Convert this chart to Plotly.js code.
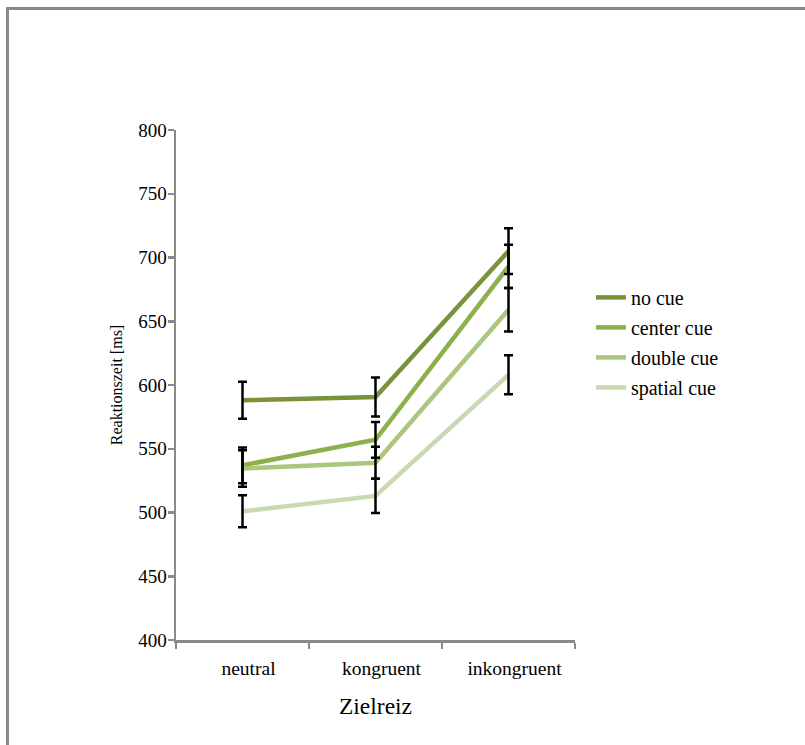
<!DOCTYPE html>
<html>
<head>
<meta charset="utf-8">
<script src="https://cdn.plot.ly/plotly-3.0.1.min.js"></script>
<style>
  html, body { margin: 0; padding: 0; background: #fff; overflow: hidden; }
  #wrap { position: relative; width: 805px; height: 745px; }
  #chart { position: absolute; left: 0; top: 0; width: 805px; height: 745px; }
  #frame { position: absolute; left: 6px; top: 7px; width: 1200px; height: 1200px;
           border-top: 3px solid #8a8a8a; border-left: 3px solid #8a8a8a; pointer-events: none; }
</style>
</head>
<body>
<div id="wrap">
  <div id="chart"></div>
  <div id="frame"></div>
</div>
<script>
// Data
var categories = ['neutral', 'kongruent', 'inkongruent'];
var seriesNames = ['no cue', 'center cue', 'double cue', 'spatial cue'];
var noCue = [588, 590.5, 705];
var centerCue = [537, 557, 693];
var doubleCue = [534.5, 539, 659];
var spatialCue = [501, 513, 608];
var noCueErr = [14.5, 15.3, 18];
var centerCueErr = [14, 14, 17];
var doubleCueErr = [14.4, 12.6, 17];
var spatialCueErr = [12.5, 13.4, 15.3];
var yTickVals = [400, 450, 500, 550, 600, 650, 700, 750, 800];

var seriesValues = [noCue, centerCue, doubleCue, spatialCue];
var seriesErrs = [noCueErr, centerCueErr, doubleCueErr, spatialCueErr];
var colors = ['#77933c', '#8cb04a', '#abc67f', '#c9d9b2'];

var traces = [];
// lines first
for (var i = 0; i < seriesValues.length; i++) {
  traces.push({
    type: 'scatter', mode: 'lines', name: seriesNames[i],
    x: categories, y: seriesValues[i],
    line: { color: colors[i], width: 4.5 },
    hoverinfo: 'skip', legendgroup: 'g' + i
  });
}
// error bars on top
for (var j = 0; j < seriesValues.length; j++) {
  traces.push({
    type: 'scatter', mode: 'markers', showlegend: false,
    x: categories, y: seriesValues[j],
    marker: { size: 1, opacity: 0 },
    error_y: { type: 'data', array: seriesErrs[j], visible: true,
               color: '#000', thickness: 2.5, width: 4.5 },
    hoverinfo: 'skip'
  });
}

var serif = "'Liberation Serif', 'Times New Roman', serif";
var layout = {
  width: 805, height: 745,
  margin: { l: 176, r: 230, t: 130, b: 105 },
  paper_bgcolor: 'rgba(0,0,0,0)',
  plot_bgcolor: 'rgba(0,0,0,0)',
  showlegend: true,
  legend: {
    x: 1.04, xanchor: 'left', y: 0.71, yanchor: 'top',
    font: { family: serif, size: 20, color: '#000' },
    traceorder: 'grouped', tracegroupgap: 1, bgcolor: 'rgba(0,0,0,0)'
  },
  xaxis: {
    type: 'category', range: [-0.5, 2.5],
    tickson: 'boundaries',
    showline: true, linecolor: '#8a8a8a', linewidth: 2.5,
    ticks: 'outside', ticklen: 6, tickwidth: 2.5, tickcolor: '#8a8a8a',
    showgrid: false, zeroline: false,
    tickfont: { family: serif, size: 19.5, color: '#000' },
    ticklabelshift: 6, ticklabelstandoff: 9,
    title: { text: 'Zielreiz', font: { family: serif, size: 23.5, color: '#000' }, standoff: 20 }
  },
  yaxis: {
    range: [400, 800], tickvals: yTickVals,
    showline: true, linecolor: '#8a8a8a', linewidth: 2.5,
    ticks: 'outside', ticklen: 6, tickwidth: 2.5, tickcolor: '#8a8a8a',
    showgrid: false, zeroline: false,
    tickfont: { family: serif, size: 19, color: '#000' },
    ticklabelstandoff: -3,
    title: { text: 'Reaktionszeit [ms]', font: { family: serif, size: 16, color: '#000' }, standoff: 12 }
  }
};

Plotly.newPlot('chart', traces, layout, { staticPlot: true, displayModeBar: false });
</script>
</body>
</html>
